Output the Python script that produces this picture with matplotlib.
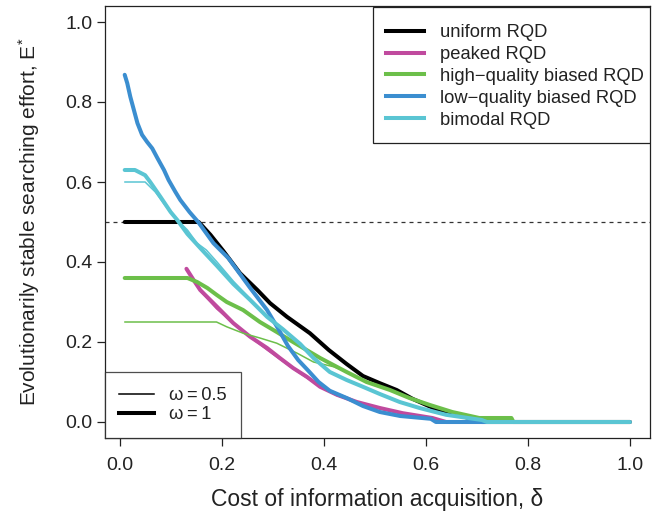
import matplotlib
matplotlib.use("Agg")
import matplotlib.pyplot as plt
from matplotlib.lines import Line2D
from matplotlib.patches import Rectangle

plt.rcParams['font.family'] = ['Liberation Sans', 'DejaVu Sans']
plt.rcParams['mathtext.fontset'] = 'custom'
plt.rcParams['mathtext.rm'] = 'Liberation Sans'
plt.rcParams['mathtext.it'] = 'Liberation Sans:italic'

# ---- data ----
uniform_x = [0.01, 0.155, 0.178, 0.203, 0.236, 0.27, 0.295, 0.328, 0.373, 0.41, 0.445,
             0.477, 0.51, 0.543, 0.574, 0.62, 0.66, 0.70, 0.71, 1.0]
uniform_y = [0.5, 0.5, 0.468, 0.428, 0.372, 0.33, 0.297, 0.263, 0.222, 0.18, 0.145,
             0.115, 0.097, 0.08, 0.058, 0.032, 0.018, 0.005, 0.0, 0.0]

peaked_x = [0.131, 0.145, 0.158, 0.191, 0.223, 0.256, 0.289, 0.314, 0.34, 0.367, 0.393,
            0.426, 0.465, 0.51, 0.555, 0.613, 0.64, 1.0]
peaked_y = [0.383, 0.355, 0.33, 0.288, 0.247, 0.213, 0.185, 0.16, 0.135, 0.113, 0.088,
            0.068, 0.05, 0.035, 0.022, 0.01, 0.0, 0.0]
peaked_thin_x = [0.16, 0.19, 0.22, 0.25, 0.289, 0.314, 0.34, 0.367, 0.393, 0.426, 0.465,
                 0.51, 0.555, 0.613, 0.64, 1.0]
peaked_thin_y = [0.325, 0.283, 0.25, 0.218, 0.18, 0.157, 0.133, 0.11, 0.09, 0.066, 0.05,
                 0.033, 0.022, 0.01, 0.0, 0.0]

highq_x = [0.01, 0.133, 0.152, 0.172, 0.19, 0.21, 0.242, 0.275, 0.308, 0.34, 0.393, 0.445,
           0.484, 0.53, 0.568, 0.607, 0.652, 0.705, 0.768, 0.772, 1.0]
highq_y = [0.36, 0.36, 0.35, 0.335, 0.318, 0.30, 0.28, 0.25, 0.225, 0.20, 0.16, 0.125,
           0.10, 0.08, 0.06, 0.043, 0.025, 0.01, 0.01, 0.0, 0.0]
highq_thin_x = [0.01, 0.19, 0.21, 0.242, 0.275, 0.308, 0.348, 0.38, 0.42, 0.445, 0.484,
                0.53, 0.568, 0.607, 0.652, 0.705, 0.768, 0.772, 1.0]
highq_thin_y = [0.25, 0.25, 0.238, 0.222, 0.21, 0.197, 0.172, 0.15, 0.138, 0.125, 0.10,
                0.08, 0.06, 0.043, 0.025, 0.01, 0.01, 0.0, 0.0]

lowq_x = [0.01, 0.015, 0.021, 0.028, 0.035, 0.044, 0.054, 0.064, 0.074, 0.087, 0.096,
          0.109, 0.119, 0.137, 0.154, 0.184, 0.213, 0.236, 0.256, 0.289, 0.31, 0.33,
          0.35, 0.37, 0.39, 0.412, 0.445, 0.477, 0.51, 0.55, 0.61, 0.62, 1.0]
lowq_y = [0.868, 0.847, 0.813, 0.78, 0.747, 0.718, 0.70, 0.684, 0.66, 0.63, 0.605,
          0.576, 0.555, 0.525, 0.50, 0.447, 0.41, 0.37, 0.335, 0.28, 0.235, 0.19,
          0.155, 0.128, 0.10, 0.078, 0.06, 0.04, 0.025, 0.015, 0.008, 0.0, 0.0]

bimodal_x = [0.01, 0.03, 0.05, 0.06, 0.08, 0.10, 0.113, 0.133, 0.158, 0.191, 0.223, 0.256,
             0.289, 0.32, 0.354, 0.38, 0.412, 0.445, 0.477, 0.51, 0.549, 0.588, 0.64,
             0.71, 0.72, 1.0]
bimodal_y = [0.63, 0.63, 0.617, 0.60, 0.563, 0.525, 0.505, 0.47, 0.435, 0.39, 0.345,
             0.305, 0.263, 0.232, 0.195, 0.16, 0.125, 0.105, 0.088, 0.07, 0.05, 0.035,
             0.018, 0.005, 0.0, 0.0]
bimodal_thin_x = [0.01, 0.05, 0.07, 0.09, 0.113, 0.133, 0.152, 0.17, 0.191, 0.223, 0.256,
                  0.289, 0.32, 0.354, 0.38, 0.412, 0.445, 0.477, 0.51, 0.549, 0.588,
                  0.64, 0.71, 0.72, 1.0]
bimodal_thin_y = [0.60, 0.60, 0.575, 0.54, 0.505, 0.48, 0.447, 0.43, 0.40, 0.352, 0.308,
                  0.265, 0.232, 0.195, 0.16, 0.125, 0.105, 0.088, 0.07, 0.05, 0.035,
                  0.018, 0.005, 0.0, 0.0]

series_names = ["uniform RQD", "peaked RQD", "high\u2212quality biased RQD",
                "low\u2212quality biased RQD", "bimodal RQD"]
series_colors = ["#000000", "#C04A9E", "#6CBF4A", "#3B8ED0", "#5AC5D3"]
omega_labels = ["\u03c9\u2009=\u20090.5", "\u03c9\u2009=\u20091"]

xticks = [0.0, 0.2, 0.4, 0.6, 0.8, 1.0]
yticks = [0.0, 0.2, 0.4, 0.6, 0.8, 1.0]

# ---- figure ----
W, H = 660, 515
AX_L, AX_R, AX_T, AX_B = 104.5, 650, 6, 438
fig = plt.figure(figsize=(W / 100, H / 100), dpi=100)
ax = fig.add_axes([AX_L / W, 1 - AX_B / H, (AX_R - AX_L) / W, (AX_B - AX_T) / H])


def px2ax(px, py):
    return (px - AX_L) / (AX_R - AX_L), (AX_B - py) / (AX_B - AX_T)


FS_TICK = 14
FS_LEG = 13.2
LW_THICK = 2.9
LW_THIN = 1.1
INK = '#222222'
kw = dict(solid_capstyle='round', solid_joinstyle='round')

ax.axhline(0.5, color='#333333', lw=0.9, ls=(0, (3.2, 3.2)), zorder=1)

c = series_colors
ax.plot(uniform_x, uniform_y, color=c[0], lw=LW_THICK, zorder=2, **kw)
ax.plot(peaked_x, peaked_y, color=c[1], lw=LW_THICK, zorder=3, **kw)
ax.plot(peaked_thin_x, peaked_thin_y, color=c[1], lw=LW_THIN, zorder=3, **kw)
ax.plot(highq_x, highq_y, color=c[2], lw=LW_THICK, zorder=4, **kw)
ax.plot(highq_thin_x, highq_thin_y, color=c[2], lw=LW_THIN, zorder=4, **kw)
ax.plot(lowq_x, lowq_y, color=c[3], lw=LW_THICK, zorder=5, **kw)
ax.plot(bimodal_x, bimodal_y, color=c[4], lw=LW_THICK, zorder=6, **kw)
ax.plot(bimodal_thin_x, bimodal_thin_y, color=c[4], lw=LW_THIN, zorder=6, **kw)

ax.set_xlim(-0.0296, 1.0396)
ax.set_ylim(-0.04, 1.04)
ax.set_xticks(xticks)
ax.set_yticks(yticks)
ax.set_xticklabels([f"{v:.1f}" for v in xticks])
ax.set_yticklabels([f"{v:.1f}" for v in yticks])
ax.tick_params(axis='both', direction='out', length=5.5, width=0.9, labelsize=FS_TICK,
               color=INK, labelcolor=INK)
ax.tick_params(axis='x', pad=8)
ax.tick_params(axis='y', pad=3)
for s in ax.spines.values():
    s.set_linewidth(0.9)
    s.set_color(INK)

ax.set_xlabel("Cost of information acquisition, \u03b4", fontsize=16.5, color=INK,
              labelpad=10)
ax.set_ylabel("Evolutionarily stable searching effort, E$^{*}$", fontsize=15,
              color=INK, labelpad=17)

# legend 1 (series) with an R-style frame
x0, y0 = px2ax(373, 143)
x1, y1 = px2ax(650, 7)
ax.add_patch(Rectangle((x0, y0), x1 - x0, y1 - y0, transform=ax.transAxes,
                       facecolor='white', edgecolor=INK, lw=0.9, zorder=10))
handles1 = [Line2D([], [], color=col, lw=LW_THICK) for col in series_colors]
leg1 = ax.legend(handles1, series_names, loc='upper left',
                 bbox_to_anchor=px2ax(386, 24), borderaxespad=0, fontsize=FS_LEG,
                 frameon=False, handlelength=2.05, handletextpad=0.9,
                 labelspacing=0.27, borderpad=0.0)
leg1.set_zorder(11)
for t in leg1.get_texts():
    t.set_color(INK)
ax.add_artist(leg1)

handles2 = [Line2D([], [], color='black', lw=LW_THIN), Line2D([], [], color='black', lw=LW_THICK)]
leg2 = ax.legend(handles2, omega_labels, loc='lower left',
                 bbox_to_anchor=(0, 0), borderaxespad=0, fontsize=FS_LEG, frameon=True,
                 fancybox=False, edgecolor=INK, handlelength=1.9,
                 handletextpad=0.8, labelspacing=0.12, borderpad=0.8)
leg2.get_frame().set_linewidth(0.9)
leg2.set_zorder(11)
for t in leg2.get_texts():
    t.set_color(INK)

fig.savefig("out.png", dpi=100)
